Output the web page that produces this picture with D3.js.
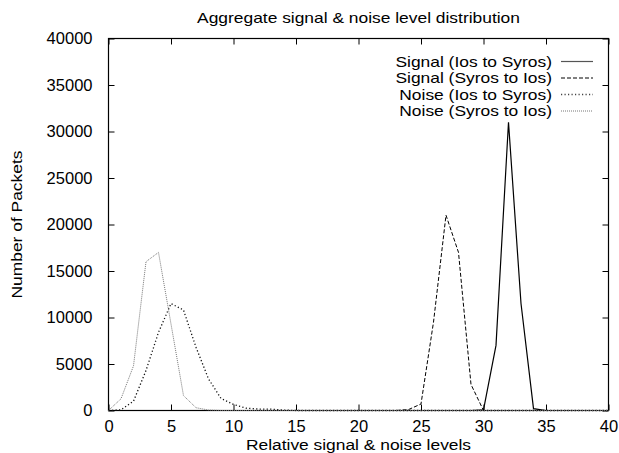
<!DOCTYPE html>
<html><head><meta charset="utf-8">
<script src="https://cdn.jsdelivr.net/npm/d3@7"></script>
<style>body{margin:0;background:#fff}svg{display:block}text{font-family:"Liberation Sans",Arial,sans-serif;fill:#000}</style>
</head><body><svg id="c" width="619" height="453"></svg>
<script>
const levels = d3.range(0, 41);
const signalIosToSyros = [0,0,0,0,0,0,0,0,0,0,0,0,0,0,0,0,0,0,0,0,0,0,0,0,0,0,0,0,0,0,60,7000,31000,11500,200,0,0,0,0,0,0];
const signalSyrosToIos = [0,0,0,0,0,0,0,0,0,0,0,0,0,0,0,0,0,0,0,0,0,0,0,0,100,700,9500,21000,17000,2800,0,0,0,0,0,0,0,0,0,0,0];
const noiseIosToSyros = [0,80,1000,4300,8400,11500,10800,6800,3400,1300,650,250,150,150,50,0,0,0,0,0,0,0,0,0,0,0,0,0,0,0,0,0,0,0,0,0,0,0,0,0,0];
const noiseSyrosToIos = [0,1260,4800,16000,17000,9300,1600,300,50,0,0,0,0,0,0,0,0,0,0,0,0,0,0,0,0,0,0,0,0,0,0,0,0,0,0,0,0,0,0,0,0];
const seriesNames = ["Signal (Ios to Syros)","Signal (Syros to Ios)","Noise (Ios to Syros)","Noise (Syros to Ios)"];
const xTicks = [0,5,10,15,20,25,30,35,40];
const yTicks = [0,5000,10000,15000,20000,25000,30000,35000,40000];
const title = "Aggregate signal & noise level distribution";
const xLabel = "Relative signal & noise levels";
const yLabel = "Number of Packets";

const styles = [
  {stroke:"#000", dash:null, w:1.2, legendStroke:"#555"},
  {stroke:"#000", dash:"4,2", w:1, legendStroke:"#000"},
  {stroke:"#111", dash:"1.2,2.3", w:1.3, legendStroke:"#444"},
  {stroke:"#777", dash:"1,1", w:1, legendStroke:"#777"}
];
const data = [signalIosToSyros, signalSyrosToIos, noiseIosToSyros, noiseSyrosToIos];

const L=108.5, R=608.5, T=38.5, B=410.5;
const SX = 1.16;
const svg = d3.select("#c");
const x = d3.scaleLinear().domain([0,40]).range([L,R]);
const y = d3.scaleLinear().domain([0,40000]).range([B,T]);

const tl = 6;
const tickFont = g=>{g.select(".domain").remove();g.selectAll("text").attr("font-size",16.5).attr("font-family","Liberation Sans, Arial, sans-serif");};
svg.append("g").attr("transform",`translate(0,${B})`)
  .call(d3.axisBottom(x).tickValues(xTicks).tickSizeInner(-tl).tickSizeOuter(0).tickPadding(10))
  .call(tickFont);
svg.append("g").attr("transform",`translate(0,${T})`)
  .call(d3.axisTop(x).tickValues(xTicks).tickSizeInner(-tl).tickSizeOuter(0).tickFormat(""))
  .call(g=>g.select(".domain").remove());
svg.append("g").attr("transform",`translate(${L},0)`)
  .call(d3.axisLeft(y).tickValues(yTicks).tickSizeInner(-tl).tickSizeOuter(0).tickPadding(16).tickFormat(d3.format("d")))
  .call(tickFont);
svg.append("g").attr("transform",`translate(${R},0)`)
  .call(d3.axisRight(y).tickValues(yTicks).tickSizeInner(-tl).tickSizeOuter(0).tickFormat(""))
  .call(g=>g.select(".domain").remove());
svg.selectAll(".tick line").attr("stroke","#000");

svg.append("rect").attr("x",L).attr("y",T).attr("width",R-L).attr("height",B-T)
  .attr("fill","none").attr("stroke","#000").attr("stroke-width",1.2);

const line = d3.line().x((d,i)=>x(levels[i])).y(d=>y(d));
data.forEach((s,k)=>{
  svg.append("path").datum(s).attr("d",line).attr("fill","none")
    .attr("stroke",styles[k].stroke).attr("stroke-width",styles[k].w)
    .attr("stroke-dasharray",styles[k].dash);
});

function stretchedText(tx, ty, rot, anchor, size, str, dy, sx){
  const g = svg.append("g").attr("transform",`translate(${tx},${ty}) rotate(${rot}) scale(${sx||SX},1)`);
  return g.append("text").attr("text-anchor",anchor).attr("font-size",size).attr("dy",dy||0).text(str);
}

const ly0 = 61.5, ldy = 16.5;
seriesNames.forEach((n,k)=>{
  const yy = ly0 + k*ldy;
  stretchedText(552, yy, 0, "end", 15, n, "0.35em");
  svg.append("line").attr("x1",561).attr("x2",593).attr("y1",yy).attr("y2",yy)
    .attr("stroke",styles[k].legendStroke).attr("stroke-width",styles[k].w)
    .attr("stroke-dasharray",styles[k].dash);
});

stretchedText((L+R)/2, 23, 0, "middle", 15, title);
stretchedText((L+R)/2, 450, 0, "middle", 14.5, xLabel, 0, 1.2);
stretchedText(22, (T+B)/2, -90, "middle", 15, yLabel);
</script></body></html>
